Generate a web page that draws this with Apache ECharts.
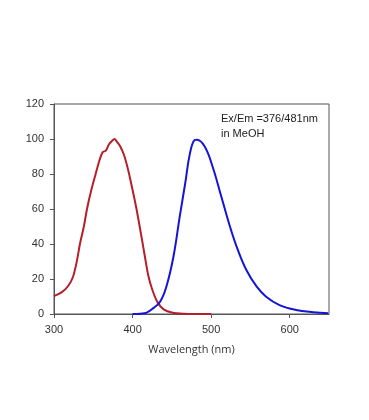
<!DOCTYPE html>
<html><head><meta charset="utf-8">
<script src="https://cdn.jsdelivr.net/npm/echarts@6/dist/echarts.min.js"></script>
<style>html,body{margin:0;padding:0;background:#fff}#c{width:369px;height:420px}</style>
</head><body><div id="c"></div>
<script>
var exWavelength = [300,310,318,324,329,333,338,342,347,353,358,362,366,370,374,377,380,384,389,394,399,405,411,416,420,425,432,440,450,465,480,500];
var exIntensity  = [10.3,12.5,16,21,30,40,50,60,70,80,88,92.5,93.3,97,99,100,98.5,96,91,83,73,60,45,32,22,14,6.5,2.5,0.8,0.1,0,0];
var emWavelength = [400,410,418,426,435,443,452,460,467,473,479,482,492,502,513,524,534,545,558,570,587,608,630,649];
var emIntensity  = [0,0.2,0.8,3.2,7,15.6,32.7,55.6,74.7,91.8,99.4,99.6,95.6,84,67,49.9,36.6,25,15.6,9.9,5.1,2.3,1,0.4];
var xTicks = [300,400,500,600];
var yTicks = [0,20,40,60,80,100,120];
var annotation = ['Ex/Em =376/481nm','in MeOH'];
var xTitle = 'Wavelength (nm)';

function pairs(xs, ys){ return xs.map(function(x,i){return [x, ys[i]];}); }

var chart = echarts.init(document.getElementById('c'), null, {renderer:'canvas'});
chart.setOption({
  animation:false,
  backgroundColor:'#fff',
  grid:{left:54,right:40,top:104,bottom:106,show:true,borderColor:'#555',borderWidth:1},
  xAxis:{type:'value',min:xTicks[0],max:650,interval:100,
    name:xTitle,nameLocation:'middle',nameGap:30,
    nameTextStyle:{fontFamily:'Open Sans',fontSize:11,color:'#333'},
    axisLine:{show:true,onZero:false,lineStyle:{color:'#555'}},
    axisTick:{show:true,length:4,lineStyle:{color:'#555'}},
    axisLabel:{showMaxLabel:false,fontFamily:'Liberation Sans',fontSize:11,color:'#333',margin:10},
    splitLine:{show:false}},
  yAxis:{type:'value',min:yTicks[0],max:yTicks[yTicks.length-1],interval:20,
    axisLine:{show:true,lineStyle:{color:'#555'}},
    axisTick:{show:true,length:4,lineStyle:{color:'#555'}},
    axisLabel:{fontFamily:'Liberation Sans',fontSize:11,color:'#333',margin:10},
    splitLine:{show:false}},
  graphic:[{type:'text',left:221,top:111,style:{text:annotation.join('\n'),fontFamily:'Liberation Sans',fontSize:11,lineHeight:15,fill:'#222'}}],
  series:[
    {type:'line',data:pairs(exWavelength,exIntensity),smooth:0.3,showSymbol:false,lineStyle:{color:'#b3202a',width:2}},
    {type:'line',data:pairs(emWavelength,emIntensity),smooth:0.4,showSymbol:false,lineStyle:{color:'#1414d8',width:2}}
  ]
});
</script></body></html>
